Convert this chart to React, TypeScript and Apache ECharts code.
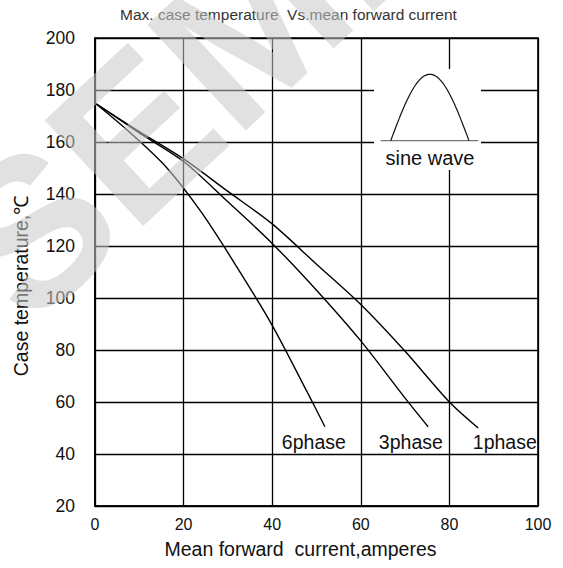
import { useEffect, useRef } from "react";
import * as echarts from "echarts";

const chartTitle = "Max. case temperature  Vs.mean forward current";
const xAxisName = "Mean forward  current,amperes";
const yAxisName = "Case temperature,℃";
const insetLabel = "sine wave";
const watermark = "SEMI";

const xMin = 0;
const xMax = 100;
const xStep = 20;
const yMin = 20;
const yMax = 200;
const yStep = 20;

const seriesNames = ["1phase", "3phase", "6phase"];
const phase1X = [0, 10, 20, 30, 40, 50, 60, 70, 80, 86.5];
const phase1Y = [175, 164, 153.5, 141, 128.5, 113, 97.5, 79.5, 60, 50];
const phase3X = [0, 10, 20, 30, 40, 50, 60, 70, 75.2];
const phase3Y = [175, 163.5, 152.5, 137, 121, 103, 83.5, 61.5, 50.5];
const phase6X = [0, 8, 16, 24, 32, 40, 48, 51.9];
const phase6Y = [175, 163.5, 150.5, 133, 112, 89.5, 63.5, 50.5];
const labelX = [92.5, 71.3, 49.4];
const labelY = [44.6, 44.6, 44.6];

const zip = (xs: number[], ys: number[]) => xs.map((x, i) => [x, ys[i]]);

export default function App() {
  const ref = useRef<HTMLDivElement>(null);
  useEffect(() => {
    if (!ref.current) return;
    const chart = echarts.init(ref.current, null, { renderer: "svg" });
    const font = "'Liberation Sans', Arial, sans-serif";
    const curves = [zip(phase1X, phase1Y), zip(phase3X, phase3Y), zip(phase6X, phase6Y)];

    // sine-wave inset icon
    const x0 = 390.7, x1 = 469, yb = 140.7, yp = 74.3;
    const pts: number[][] = [];
    for (let i = 0; i <= 48; i++) {
      const t = i / 48;
      pts.push([x0 + t * (x1 - x0), yb - Math.sin(Math.PI * t) * (yb - yp)]);
    }

    chart.setOption({
      animation: false,
      backgroundColor: "#fff",
      textStyle: { fontFamily: font },
      grid: { left: 95, right: 25, top: 38, bottom: 62, show: true, borderColor: "#000", borderWidth: 1.6, containLabel: false },
      xAxis: {
        type: "value",
        min: xMin,
        max: xMax,
        interval: xStep,
        name: xAxisName,
        nameLocation: "middle",
        nameGap: 33,
        nameTextStyle: { fontSize: 19.5, color: "#111", fontFamily: font, padding: [0, 32, 0, 0] },
        axisLine: { show: true, lineStyle: { color: "#000", width: 1.6 } },
        axisTick: { show: false },
        axisLabel: { fontSize: 16, color: "#111", margin: 10, fontFamily: font },
        splitLine: { show: true, lineStyle: { color: "#000", width: 1.3 } },
      },
      yAxis: {
        type: "value",
        min: yMin,
        max: yMax,
        interval: yStep,
        name: yAxisName,
        nameLocation: "middle",
        nameGap: 64,
        nameRotate: 90,
        nameTextStyle: { fontSize: 19.5, color: "#111", fontFamily: font, padding: [0, 28, 0, 0] },
        axisLine: { show: true, lineStyle: { color: "#000", width: 1.6 } },
        axisTick: { show: false },
        axisLabel: { fontSize: 17.5, color: "#111", margin: 20, fontFamily: font },
        splitLine: { show: true, lineStyle: { color: "#000", width: 1.3 } },
      },
      series: [
        ...curves.map((d, i) => ({
          type: "line",
          name: seriesNames[i],
          data: d,
          smooth: 0.3,
          symbol: "none",
          lineStyle: { color: "#000", width: 1.4 },
          z: 3,
        })),
        {
          type: "scatter",
          data: labelX.map((x, i) => ({ value: [x, labelY[i]], name: seriesNames[i] })),
          symbolSize: 0,
          itemStyle: { opacity: 1 },
          label: {
            show: true,
            position: "inside",
            formatter: (p: any) => p.name,
            fontSize: 19.5,
            color: "#111",
            opacity: 1,
            fontFamily: font,
          },
          z: 4,
        },
      ],
      graphic: [
        {
          type: "text",
          left: 120,
          top: 6,
          style: { text: chartTitle, fontSize: 15.5, fill: "#333", fontFamily: font },
        },
        {
          type: "rect",
          shape: { x: 374, y: 69, width: 107, height: 101 },
          style: { fill: "#fff" },
          z: 5,
        },
        {
          type: "line",
          shape: { x1: 380.7, y1: yb, x2: 478.3, y2: yb },
          style: { stroke: "#777", lineWidth: 1.3 },
          z: 6,
        },
        {
          type: "polyline",
          shape: { points: pts },
          style: { stroke: "#111", lineWidth: 1.2, fill: "none" },
          z: 6,
        },
        {
          type: "text",
          x: 430,
          y: 158,
          style: { text: insetLabel, fontSize: 20, fill: "#111", fontFamily: font, align: "center", verticalAlign: "middle" },
          z: 6,
        },
        {
          type: "text",
          x: -19,
          y: 278,
          rotation: 0.75,
          style: {
            text: watermark,
            fontSize: 210,
            fontWeight: "bold",
            fill: "rgba(200,200,200,0.55)",
            fontFamily: font,
            align: "left",
            verticalAlign: "middle",
          },
          z: 100,
          silent: true,
        },
      ],
    });
    return () => chart.dispose();
  }, []);
  return <div ref={ref} style={{ position: "fixed", left: 0, top: 0, width: 563, height: 568 }} />;
}
